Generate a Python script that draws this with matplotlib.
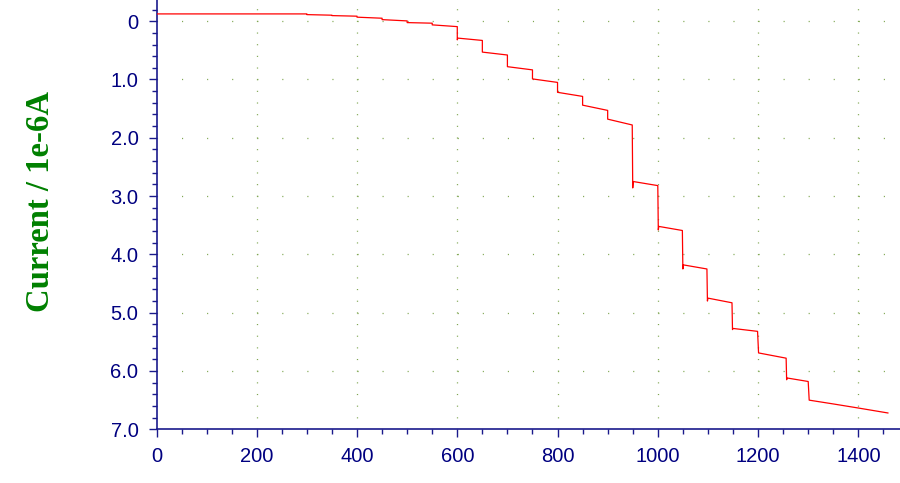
import matplotlib
matplotlib.use("Agg")
import matplotlib.pyplot as plt
from matplotlib.ticker import MultipleLocator, FuncFormatter

# ---- data ----
time_s = [0, 300, 300, 350, 350, 400, 400, 450, 450, 500, 500, 550, 550, 600,
          600, 601, 650, 650, 700, 700, 750, 750, 800, 800, 850, 850, 900, 900, 949,
          950, 951, 1000, 1001, 1002, 1049, 1050, 1051, 1098, 1099, 1100, 1148,
          1149, 1150, 1199, 1201, 1256, 1257, 1258, 1300, 1302, 1350, 1400, 1459]
current = [-0.125, -0.125, -0.113, -0.103, -0.096, -0.086, -0.069, -0.051, -0.027,
           -0.005, 0.024, 0.034, 0.063, 0.093,
           0.32, 0.29, 0.33, 0.53, 0.58, 0.78, 0.835, 0.99, 1.05, 1.22, 1.29, 1.44,
           1.53, 1.68, 1.78,
           2.86, 2.75, 2.82, 3.58, 3.52, 3.59, 4.25, 4.18, 4.25, 4.80, 4.75, 4.83,
           5.29, 5.27, 5.32, 5.69, 5.78, 6.15, 6.12, 6.18, 6.50, 6.565, 6.635, 6.72]
x_major = [0, 200, 400, 600, 800, 1000, 1200, 1400]
y_major = [0, 1, 2, 3, 4, 5, 6, 7]
y_label = "Current / 1e-6A"

plt.rcParams['lines.scale_dashes'] = False
plt.rcParams['font.family'] = ['Liberation Sans', 'DejaVu Sans']

W, H = 900, 483
fig = plt.figure(figsize=(W / 100, H / 100), dpi=100)
fig.patch.set_facecolor('white')

left_px, bottom_px = 156.5, 429.3
ax = fig.add_axes([left_px / W, 1 - bottom_px / H, 1 - left_px / W, bottom_px / H])

xpx_per_unit = 0.5013
ypx_per_unit = 58.3
ax.set_xlim(0, (W - left_px) / xpx_per_unit)
ax.set_ylim(7.0, 7.0 - bottom_px / ypx_per_unit)

navy = '#1a1a8c'
for s in ['top', 'right']:
    ax.spines[s].set_visible(False)
for s in ['left', 'bottom']:
    ax.spines[s].set_color(navy)
    ax.spines[s].set_linewidth(1.2)

ax.set_xticks(x_major)
ax.xaxis.set_minor_locator(MultipleLocator(50))
ax.set_yticks(y_major)
ax.yaxis.set_minor_locator(MultipleLocator(0.2))
ax.yaxis.set_major_formatter(FuncFormatter(lambda v, p: "0" if abs(v) < 1e-9 else f"{v:.1f}"))
ax.xaxis.set_major_formatter(FuncFormatter(lambda v, p: f"{int(round(v))}"))

ax.tick_params(which='major', direction='out', length=6, width=1, color=navy,
               labelcolor='#000080', labelsize=14.5, pad=7)
ax.tick_params(which='minor', direction='out', length=3.5, width=1, color=navy)

# dotted grid: vertical lines dotted every 0.2 in y, horizontal dotted every 50 in x
pt = 72 / 100
vper = 0.2 * ypx_per_unit * pt
hper = 50 * xpx_per_unit * pt
dot = 1.1 * pt
grid_col = '#7fa650'
for xv in x_major[1:]:
    ax.axvline(xv, color=grid_col, lw=0.9,
               linestyle=(dot / 2, (dot, vper - dot)), zorder=0)
for yv in y_major[:-1]:
    ax.axhline(yv, color=grid_col, lw=0.9,
               linestyle=(dot / 2, (dot, hper - dot)), zorder=0)

ax.plot(time_s, current, color='#ff0000', lw=0.9, zorder=3)

ax.set_ylabel(y_label, fontsize=23.5, fontweight='bold', color='#008000',
              family=['Liberation Serif', 'DejaVu Serif'])
ax.yaxis.label.set_va('center')
ax.yaxis.set_label_coords((40.5 - left_px) / (W - left_px), (bottom_px - 202) / bottom_px)

fig.savefig('out.png', dpi=100, facecolor='white')
